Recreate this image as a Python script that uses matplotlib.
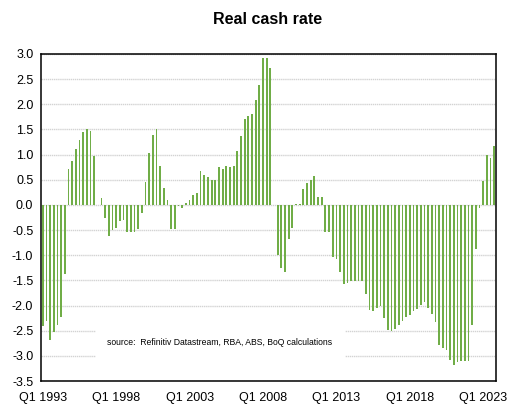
import matplotlib
matplotlib.use("Agg")
import matplotlib.pyplot as plt
from matplotlib.patches import Rectangle
import numpy as np

plt.rcParams.update({
    "font.family": ["Liberation Sans", "DejaVu Sans"],
    "font.size": 9,
})

# quarterly real cash rate, Q1 1993 .. Q4 2023
real_rate = [
    -2.40, -2.30, -2.69, -2.52, -2.38, -2.23, -1.38, 0.72, 0.87, 1.12,
    1.30, 1.44, 1.51, 1.46, 0.98, 0.00, 0.13, -0.26, -0.62, -0.50,
    -0.46, -0.32, -0.30, -0.54, -0.54, -0.53, -0.48, -0.16, 0.46, 1.03,
    1.38, 1.51, 0.77, 0.33, 0.09, -0.48, -0.48, -0.02, -0.06, 0.04,
    0.09, 0.19, 0.24, 0.67, 0.60, 0.56, 0.50, 0.50, 0.75, 0.72,
    0.78, 0.75, 0.78, 1.08, 1.37, 1.71, 1.76, 1.81, 2.08, 2.38,
    2.92, 2.92, 2.72, 0.00, -0.99, -1.25, -1.34, -0.68, -0.46, 0.02,
    0.02, 0.32, 0.43, 0.50, 0.58, 0.16, 0.16, -0.54, -0.54, -1.04,
    -1.07, -1.34, -1.58, -1.55, -1.52, -1.52, -1.52, -1.52, -1.78, -2.08,
    -2.10, -2.05, -2.00, -2.25, -2.48, -2.50, -2.46, -2.38, -2.31, -2.23,
    -2.18, -2.11, -2.07, -1.99, -1.93, -2.05, -2.17, -2.32, -2.79, -2.84,
    -2.89, -3.09, -3.18, -3.13, -3.11, -3.11, -3.11, -2.38, -0.87, -0.07,
    0.48, 0.99, 0.94, 1.18,
]
quarters = [f"Q{q} {y}" for y in range(1993, 2024) for q in range(1, 5)]
label_every = 20
yticks = np.arange(-3.5, 3.01, 0.5)
source = "source:  Refinitiv Datastream, RBA, ABS, BoQ calculations"

fig = plt.figure(figsize=(5.07, 4.05), dpi=100)
ax = fig.add_axes([41 / 507, 1 - 381 / 405, 455 / 507, 327 / 405])

x = np.arange(len(real_rate))
ax.bar(x, real_rate, width=0.48, color="#70AD47", zorder=3)

ax.set_xlim(-0.5, len(real_rate) - 0.5)
ax.set_ylim(-3.5, 3.0)
ax.set_yticks(yticks)
ax.set_yticklabels([f"{v:.1f}" for v in yticks])
ax.set_xticks(x[::label_every])
ax.set_xticklabels(quarters[::label_every])
ax.tick_params(axis="both", length=0, colors="#000000")
ax.tick_params(axis="y", pad=5.5)
ax.tick_params(axis="x", pad=8)

ax.grid(axis="y", color="#D3D3D3", linestyle=(0, (1, 0.5)), linewidth=1.0, zorder=0)
ax.set_axisbelow(True)
for s in ax.spines.values():
    s.set_color("#000000")
    s.set_linewidth(1.1)

# white text box over the lower gridlines
ax.add_patch(Rectangle((14.6, -3.12), 67.8, 0.72, facecolor="white",
                       edgecolor="none", zorder=2))
ax.text(17.5, -2.74, source, fontsize=6.2, va="center", ha="left", zorder=4)

fig.text(0.528, 1 - 19 / 405, "Real cash rate", ha="center", va="center",
         fontsize=11.5, fontweight="bold")

fig.savefig("out.png", dpi=100)
